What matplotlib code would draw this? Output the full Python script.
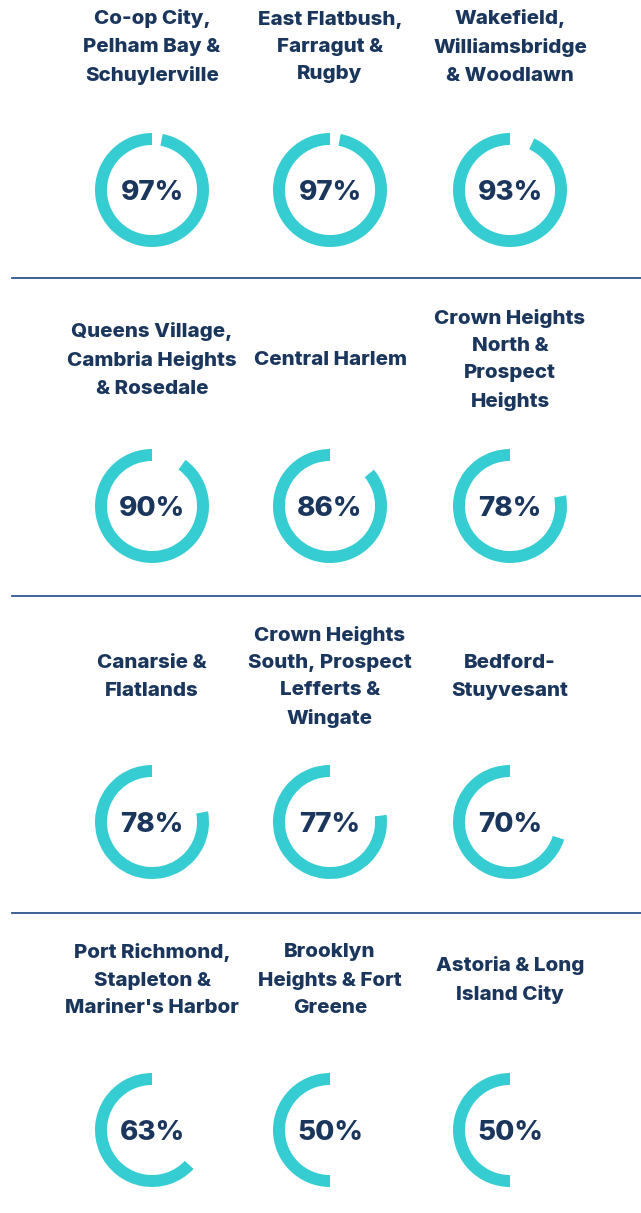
import matplotlib.pyplot as plt

# neighbourhoods and their share
names = ["Co-op City,\nPelham Bay &\nSchuylerville", "East Flatbush,\nFarragut &\nRugby",
         "Wakefield,\nWilliamsbridge\n& Woodlawn",
         "Queens Village,\nCambria Heights\n& Rosedale", "Central Harlem",
         "Crown Heights\nNorth &\nProspect\nHeights",
         "Canarsie &\nFlatlands", "Crown Heights\nSouth, Prospect\nLefferts &\nWingate",
         "Bedford-\nStuyvesant",
         "Port Richmond,\nStapleton &\nMariner's Harbor", "Brooklyn\nHeights & Fort\nGreene",
         "Astoria & Long\nIsland City"]
values = [97, 97, 93, 90, 86, 78, 78, 77, 70, 63, 50, 50]

W, H = 641, 1213
teal = "#36cdd2"
navy = "#1b365d"
col_x = [152, 330, 510]
donut_y = [190, 506, 822, 1130]
title_y = [47, 360, 677, 980]
sep_y = [278, 596, 913]
r = 57

plt.rcParams['font.family'] = ['Inter', 'DejaVu Sans']
fig = plt.figure(figsize=(W/100, H/100), dpi=100)
bg = fig.add_axes([0, 0, 1, 1])
bg.set_xlim(0, W)
bg.set_ylim(H, 0)
bg.axis("off")

for y in sep_y:
    bg.plot([12, W], [y, y], color="#2f5590", lw=1.3)

for i, (name, v) in enumerate(zip(names, values)):
    cx = col_x[i % 3]
    cy = donut_y[i // 3]
    bg.text(cx, title_y[i // 3], name, ha="center", va="center", fontsize=14.8,
            fontweight=800, color=navy, linespacing=1.66)
    ax = fig.add_axes([(cx - r)/W, 1 - (cy + r)/H, 2*r/W, 2*r/H])
    ax.pie([v, 100 - v], colors=[teal, "none"], startangle=90, counterclock=True,
           radius=1, wedgeprops=dict(width=0.21, linewidth=0))
    ax.set_xlim(-1, 1)
    ax.set_ylim(-1, 1)
    ax.axis("off")
    ax.text(0, -0.05, f"{v}%", ha="center", va="center", fontsize=20,
            fontweight=800, color=navy)

fig.savefig("out.png", dpi=100)
